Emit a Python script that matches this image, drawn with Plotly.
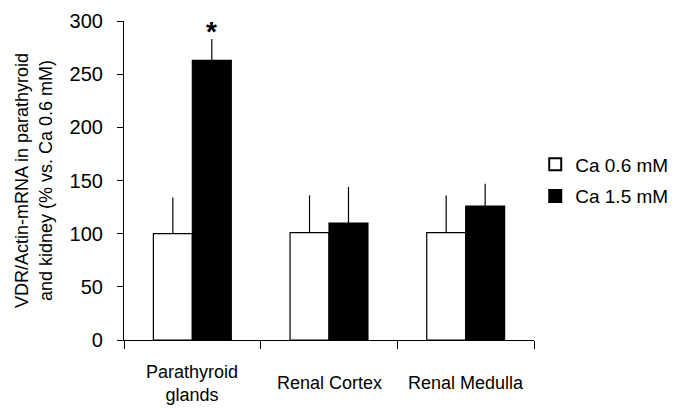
import plotly.graph_objects as go

categories = ["Parathyroid<br>glands", "Renal Cortex", "Renal Medulla"]
series_names = ["Ca 0.6 mM", "Ca 1.5 mM"]
ca06_values = [100, 101, 101]
ca06_err = [34, 35, 35]
ca15_values = [263, 110, 126]
ca15_err = [20, 34, 21]
y_ticks = [0, 50, 100, 150, 200, 250, 300]

FONT = "Liberation Sans, Arial, sans-serif"
x_idx = list(range(len(categories)))

fig = go.Figure()
fig.add_trace(go.Bar(
    x=x_idx, y=ca06_values, name=series_names[0], legendgroup="a",
    marker=dict(color="white", line=dict(color="black", width=1.2)),
    error_y=dict(type="data", symmetric=False, array=ca06_err,
                 arrayminus=[0] * len(ca06_err), color="black", thickness=1.2, width=0),
))
fig.add_trace(go.Bar(
    x=x_idx, y=ca15_values, name=series_names[1], legendgroup="b",
    marker=dict(color="black", line=dict(color="black", width=1.2)),
    error_y=dict(type="data", symmetric=False, array=ca15_err,
                 arrayminus=[0] * len(ca15_err), color="black", thickness=1.2, width=0),
))

# significance asterisk above the Ca 1.5 mM parathyroid bar
fig.add_annotation(x=0, y=ca15_values[0] + ca15_err[0], xref="x", yref="y",
                   text="<b>*</b>", showarrow=False, xshift=19.5, yshift=-10,
                   yanchor="bottom", font=dict(size=28, color="black", family=FONT))

# category labels (vertically centred, like the reference)
for i, c in enumerate(categories):
    fig.add_annotation(x=i, y=0, xref="x", yref="paper", text=c, showarrow=False,
                       yanchor="middle", yshift=-43, font=dict(size=18, color="black", family=FONT))

# the page body adds an 8px margin, so the figure is 8px smaller and margins shifted
fig.update_layout(
    width=677, height=400,
    margin=dict(l=116, r=151, t=13, b=68, autoexpand=False),
    paper_bgcolor="white", plot_bgcolor="white",
    barmode="group", bargap=0.43, bargroupgap=0,
    font=dict(family=FONT, color="black", size=18),
    legend=dict(x=1.003, y=0.5, xanchor="left", yanchor="middle",
                font=dict(size=19, color="black", family=FONT),
                tracegroupgap=4, itemsizing="constant"),
    xaxis=dict(type="linear", range=[-0.5, 2.5], tickvals=[-0.5, 0.5, 1.5, 2.5],
               showticklabels=False, ticks="outside", ticklen=8, tickwidth=1.2,
               tickcolor="black", showline=True, linecolor="black", linewidth=1.2,
               showgrid=False, zeroline=False, automargin=False),
    yaxis=dict(range=[0, 300], tickvals=y_ticks, ticks="outside", ticklen=6,
               tickwidth=1.2, tickcolor="black", showline=True, linecolor="black",
               linewidth=1.2, showgrid=False, zeroline=False, automargin=False,
               ticklabelstandoff=10,
               tickfont=dict(size=20, color="black", family=FONT),
               title=dict(text="VDR/Actin-mRNA in parathyroid<br>and kidney (% vs. Ca 0.6 mM)",
                          font=dict(size=18, color="black", family=FONT), standoff=12)),
)

fig.write_html("out.html")
